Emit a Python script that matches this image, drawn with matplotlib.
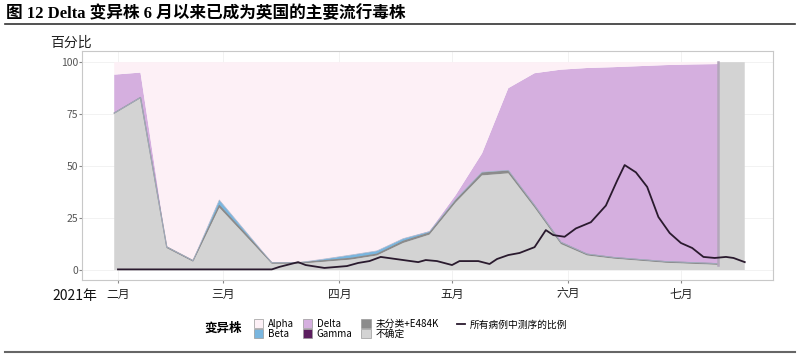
import matplotlib.pyplot as plt
import matplotlib.patches as mpatches
from matplotlib.lines import Line2D
import numpy as np

plt.rcParams['font.family'] = ['Noto Sans CJK SC', 'DejaVu Sans']

# 周数据 (最后一周全部为不确定)
weeks = ['2021-01-31', '2021-02-07', '2021-02-14', '2021-02-21', '2021-02-28',
         '2021-03-07', '2021-03-14', '2021-03-21', '2021-03-28', '2021-04-04',
         '2021-04-11', '2021-04-18', '2021-04-25', '2021-05-02', '2021-05-09',
         '2021-05-16', '2021-05-23', '2021-05-30', '2021-06-06', '2021-06-13',
         '2021-06-20', '2021-06-27', '2021-07-04', '2021-07-11', '2021-07-11',
         '2021-07-18']
uncertain = [75.5, 83, 10.5, 4, 30, 16.5, 3, 3, 4, 5, 7, 13, 17, 32.5, 45.5,
             46.5, 30, 12.5, 7, 5.5, 4.5, 3.5, 3, 2.5, 100, 100]
unclassified = [0, 0, 0.6, 0.5, 1, 0.8, 0.5, 0.5, 0.5, 0.6, 0.6, 0.8, 0.8, 1, 1.2,
                1.2, 1, 0.8, 0.6, 0.5, 0.5, 0.5, 0.5, 0.5, 0, 0]
gamma = [0, 0, 0, 0, 0.2, 0.1, 0, 0, 0, 0.1, 0.1, 0.1, 0.1, 0.1, 0.1,
         0.1, 0.1, 0.1, 0.1, 0.1, 0.1, 0.1, 0.1, 0.1, 0, 0]
beta = [0, 0, 0, 0, 2.5, 1.2, 0, 0, 0.8, 1.5, 1.5, 1.2, 0.6, 0.5, 0.3,
        0.2, 0.1, 0, 0, 0, 0, 0, 0, 0, 0, 0]
delta = [18.5, 12, 0.3, 0, 0, 0, 0, 0, 0, 0, 0, 0, 0.3, 2, 9,
         39.5, 63.5, 83, 89.5, 91.5, 93, 94.5, 95.3, 96, 0, 0]
total = np.array(uncertain) + np.array(unclassified) + np.array(gamma) + np.array(beta) + np.array(delta)
alpha = [100 - t if i < 24 else 0 for i, t in enumerate(total)]

# 所有病例中测序的比例
seq_dates = ['2021-02-01', '2021-03-14', '2021-03-16', '2021-03-21', '2021-03-23',
             '2021-03-28', '2021-04-03', '2021-04-06', '2021-04-09', '2021-04-12',
             '2021-04-16', '2021-04-18', '2021-04-22', '2021-04-24', '2021-04-27',
             '2021-05-01', '2021-05-03', '2021-05-08', '2021-05-11', '2021-05-13',
             '2021-05-16', '2021-05-19', '2021-05-23', '2021-05-26', '2021-05-28',
             '2021-05-31', '2021-06-03', '2021-06-07', '2021-06-11', '2021-06-14',
             '2021-06-16', '2021-06-19', '2021-06-22', '2021-06-25', '2021-06-28',
             '2021-07-01', '2021-07-04', '2021-07-07', '2021-07-10', '2021-07-13',
             '2021-07-15', '2021-07-18']
seq_vals = [0.3, 0.3, 1.5, 3.8, 2.4, 1.0, 1.9, 3.4, 4.3, 6.3, 5.3, 4.8, 3.8, 4.8,
            4.3, 2.4, 4.3, 4.3, 2.9, 5.3, 7.2, 8.2, 11, 19.2, 16.8, 16, 20, 23, 31,
            43, 50.5, 47, 40, 25.5, 17.8, 13, 10.6, 6.3, 5.8, 6.3, 5.8, 3.8]

months = ['2021-02-01', '2021-03-01', '2021-04-01', '2021-05-01', '2021-06-01', '2021-07-01']
month_labels = ['二月', '三月', '四月', '五月', '六月', '七月']

x = np.array(weeks, dtype='datetime64[D]')
xs = np.array(seq_dates, dtype='datetime64[D]')

fig = plt.figure(figsize=(8, 3.57), dpi=100)
ax = fig.add_axes([0.1025, 0.2157, 0.864, 0.641])

colors = ['#d3d3d3', '#8c8c8c', '#5c1e5f', '#79b6df', '#d5afdf', '#fdf0f6']
ax.stackplot(x, uncertain, unclassified, gamma, beta, delta, alpha,
             colors=colors, linewidth=0)
# 轮廓
cum = np.array(uncertain) + np.array(unclassified)
ax.plot(x[:24], cum[:24], color='#8a8a8a', lw=0.9)
cum2 = cum + np.array(gamma) + np.array(beta)
ax.plot(x[:24], cum2[:24], color='#a8b4cc', lw=0.5)
ax.plot(x[23:25], [2.5, 100], color='#b3a6bb', lw=1.8)

ax.plot(xs, seq_vals, color='#2a1a2e', lw=1.3)

ax.set_xlim(np.datetime64('2021-01-22T10'), np.datetime64('2021-07-25T14'))
ax.set_ylim(-4.8, 105.3)
ax.set_yticks([0, 25, 50, 75, 100])
ax.set_xticks(np.array(months, dtype='datetime64[D]'))
ax.set_xticklabels(month_labels, fontsize=8.5, color='#222222')
ax.tick_params(axis='y', labelsize=7.5, labelcolor='#555555', length=2, color='#888888', pad=1)
ax.tick_params(axis='x', length=2, color='#888888', pad=4)
ax.grid(True, color='#f0f0f0', lw=0.6)
ax.set_axisbelow(True)
for s in ax.spines.values():
    s.set_color('#c8c8c8')
    s.set_linewidth(0.8)

# 标题与说明
fig.text(0.008, 0.963, '图 12 Delta 变异株 6 月以来已成为英国的主要流行毒株',
         fontsize=12, fontweight='bold', va='center', ha='left',
         family=['Liberation Serif', 'Noto Sans CJK SC'])
fig.add_artist(Line2D([0.006, 0.994], [0.933, 0.933], color='#333333', lw=1.2))
fig.add_artist(Line2D([0.006, 0.994], [0.015, 0.015], color='#666666', lw=1.5))
fig.text(0.063, 0.88, '百分比', fontsize=10, va='center', ha='left', color='#222222')
fig.text(0.065, 0.172, '2021年', fontsize=10, va='center', ha='left', color='#111111')

# 图例
handles = [mpatches.Patch(facecolor=c, edgecolor='#999999', lw=0.5) for c in
           ['#fdf0f6', '#79b6df', '#d5afdf', '#5c1e5f', '#8c8c8c', '#d3d3d3']]
labels = ['Alpha', 'Beta', 'Delta', 'Gamma', '未分类+E484K', '不确定']
fig.text(0.256, 0.079, '变异株', fontsize=9, fontweight='bold', va='center', ha='left')
fig.legend(handles, labels, ncol=3, loc='center left', bbox_to_anchor=(0.311, 0.079),
           frameon=False, fontsize=7, handlelength=1.0, handleheight=1.0,
           handletextpad=0.45, columnspacing=0.9, labelspacing=0.0, borderpad=0)
fig.legend([Line2D([0], [0], color='#2a1a2e', lw=1.3)], ['所有病例中测序的比例'],
           loc='center left', bbox_to_anchor=(0.565, 0.09), frameon=False, fontsize=7,
           handlelength=0.8, handletextpad=0.5, borderpad=0)

fig.savefig('out.png', dpi=100)
